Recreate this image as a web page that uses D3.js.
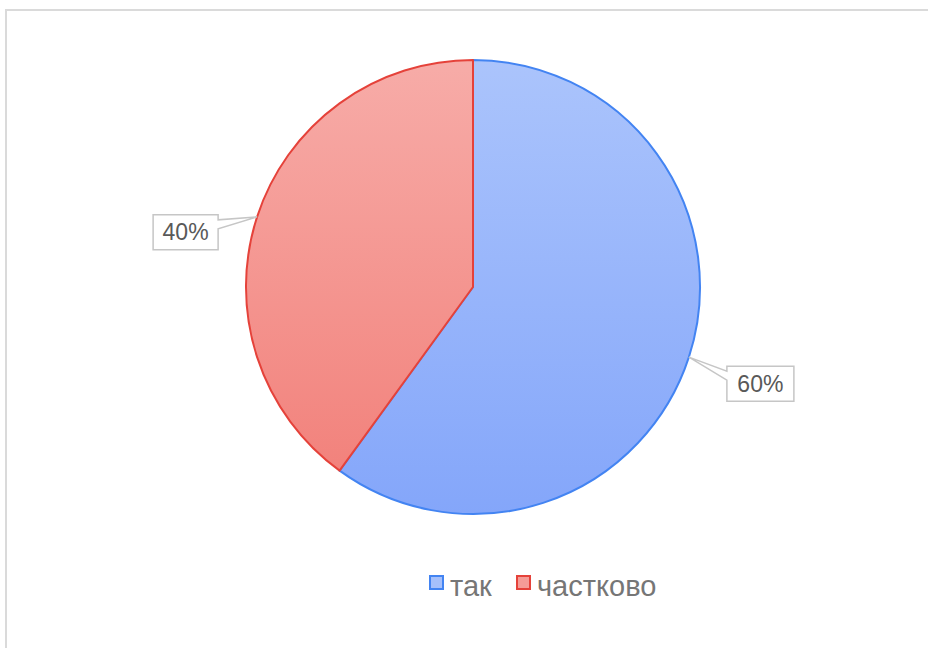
<!DOCTYPE html>
<html><head><meta charset="utf-8">
<script src="https://cdn.jsdelivr.net/npm/d3@7"></script>
<style>body{margin:0;background:#fff}svg{display:block}</style>
</head><body>
<svg id="c" width="928" height="648"></svg>
<script>
const categories = ["так", "частково"];
const values = [60, 40];
const labels = ["60%", "40%"];

const svg = d3.select("#c");
const cx = 473, cy = 287, R = 227;

// frame
svg.append("rect").attr("x", 6).attr("y", 10).attr("width", 940).attr("height", 660)
  .attr("fill", "none").attr("stroke", "#dadada").attr("stroke-width", 2);

const defs = svg.append("defs");
const grads = [
  {id: "gBlue", top: "#abc4fc", bot: "#84a6fa"},
  {id: "gRed", top: "#f7aca8", bot: "#f2827c"}
];
grads.forEach(g => {
  const lg = defs.append("linearGradient").attr("id", g.id)
    .attr("x1", 0).attr("y1", 0).attr("x2", 0).attr("y2", 1);
  lg.append("stop").attr("offset", 0).attr("stop-color", g.top);
  lg.append("stop").attr("offset", 1).attr("stop-color", g.bot);
});
const fills = ["url(#gBlue)", "url(#gRed)"];
const strokes = ["#4384f2", "#e5423a"];
const legendFills = ["#a6c0fb", "#f59c97"];

const pie = d3.pie().sort(null).value(d => d);
const arcs = pie(values);
const arc = d3.arc().innerRadius(0).outerRadius(R);

const g = svg.append("g").attr("transform", `translate(${cx},${cy})`);
g.selectAll("path.s").data(arcs).enter().append("path")
  .attr("d", arc)
  .attr("fill", (d, i) => fills[i])
  .attr("stroke", (d, i) => strokes[i])
  .attr("stroke-width", 2)
  .attr("stroke-linejoin", "round");

// callout labels
const boxW = [67, 65], boxH = 35;
const offs = [[38, 9], [-39, -2]];
arcs.forEach((d, i) => {
  const a = (d.startAngle + d.endAngle) / 2;
  const tx = cx + R * Math.sin(a), ty = cy - R * Math.cos(a);
  const right = Math.sin(a) > 0;
  const bx = right ? tx + offs[i][0] : tx + offs[i][0] - boxW[i];
  const by = ty + offs[i][1];
  const bw = boxW[i];
  const y1 = by + 5, y2 = by + 14;
  let p;
  if (right) {
    p = `M${bx},${by} H${bx + bw} V${by + boxH} H${bx} V${y2} L${tx},${ty} L${bx},${y1} Z`;
  } else {
    p = `M${bx},${by} H${bx + bw} V${y1} L${tx},${ty} L${bx + bw},${y2} V${by + boxH} H${bx} Z`;
  }
  svg.append("path").attr("d", p).attr("fill", "#fff").attr("stroke", "#c6c6c6").attr("stroke-width", 1.5);
  svg.append("text").attr("x", bx + bw / 2).attr("y", by + boxH / 2 + 8)
    .attr("text-anchor", "middle").attr("font-family", "Liberation Sans, Arial, sans-serif")
    .attr("font-size", 23).attr("fill", "#595959").text(labels[i]);
});

// legend
const leg = svg.append("g");
const lx = [430, 517];
categories.forEach((c, i) => {
  leg.append("rect").attr("x", lx[i]).attr("y", 576).attr("width", 13).attr("height", 13)
    .attr("fill", legendFills[i]).attr("stroke", strokes[i]).attr("stroke-width", 2);
  leg.append("text").attr("x", lx[i] + 20).attr("y", 596)
    .attr("font-family", "Liberation Sans, Arial, sans-serif").attr("font-size", 29)
    .attr("fill", "#767676").text(c);
});
</script>
</body></html>
